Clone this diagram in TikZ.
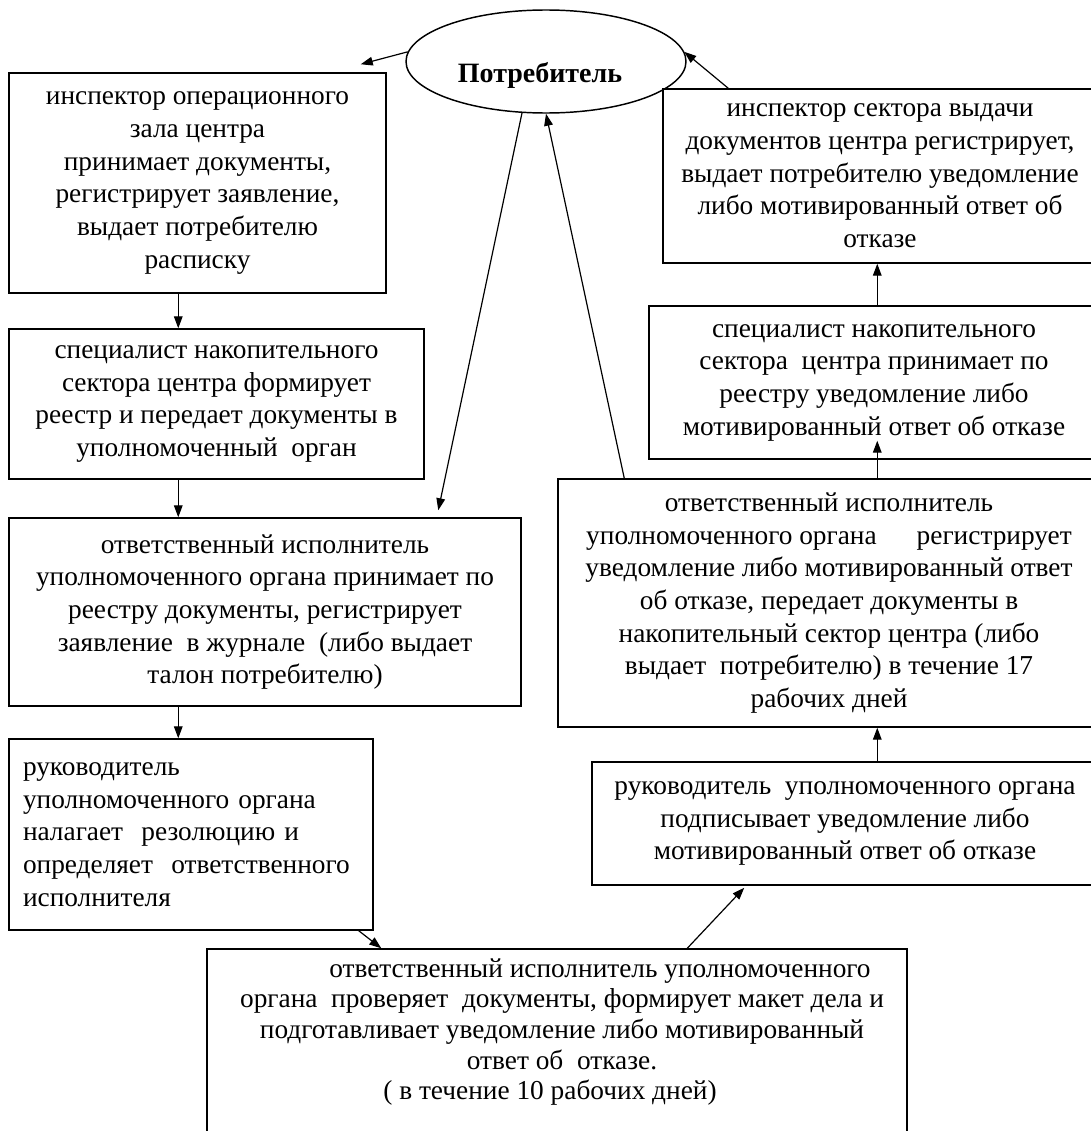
\documentclass[tikz,border=0pt]{standalone}
\usepackage{fontspec}
\setmainfont{Liberation Serif}
\usetikzlibrary{arrows.meta,calc,shapes.geometric}
\begin{document}
\begin{tikzpicture}[x=0.75pt,y=-0.75pt,
  box/.style={draw, line width=1.1pt, rectangle, inner sep=0pt, align=center,
    font=\fontsize{20.5pt}{24.5pt}\selectfont},
  lbl/.style={inner sep=0pt, align=center, font=\fontsize{20.5pt}{23pt}\selectfont},
  arr/.style={draw, line width=0.9pt, -{Triangle[length=9pt,width=6.5pt]}}]
\useasboundingbox (0,0) rectangle (1091,1131);
\clip (0,0) rectangle (1091,1131);
\fill[white] (0,0) rectangle (1091,1131);

\node[draw, ellipse, line width=1.1pt, minimum width=210pt, minimum height=77.25pt, inner sep=0pt] (cons) at (546,61.5) {};
\node[font=\bfseries\fontsize{21pt}{24pt}\selectfont, anchor=base, inner sep=0pt] (consl) at (540,83) {Потребитель};

\node[box, minimum width=282.75pt, minimum height=165pt] (b1) at (197.5,183)
  {инспектор операционного\\ зала центра\\ принимает документы,\\ регистрирует заявление,\\ выдает потребителю\\ расписку};
\node[box, minimum width=311.25pt, minimum height=112.5pt] (b2) at (216.5,404)
  {специалист накопительного\\ сектора центра формирует\\ реестр и передает документы в\\ уполномоченный\ \ орган};
\node[box, minimum width=384pt, minimum height=141pt] (b3) at (265,612)
  {ответственный исполнитель\\ уполномоченного органа принимает по\\ реестру документы, регистрирует\\ заявление\ \ в журнале\ \ (либо выдает\\ талон потребителю)};
\node[box, align=left, text width=252pt, minimum width=273pt, minimum height=143.25pt] (b4) at (191,834.5)
  {руководитель\\ уполномоченного органа\\ налагает\ \ резолюцию и\\ определяет\ \ ответственного\\ исполнителя};
\node[box, minimum width=525pt, minimum height=188.25pt] (b5) at (557,1074.5) {};
\node[lbl] (b5t) at (562,1032)
  {\hspace*{57pt}ответственный исполнитель уполномоченного\\ органа\ \ проверяет\ \ документы, формирует макет дела и\\ подготавливает уведомление либо мотивированный\\ ответ об\ \ отказе.\hspace*{22pt}\\ ( в течение 10 рабочих дней)\hspace*{18pt}};
\node[box, minimum width=379.5pt, minimum height=92.25pt] (b6) at (845,823.5)
  {руководитель\ \ уполномоченного органа\\ подписывает уведомление либо\\ мотивированный ответ об отказе};
\node[box, minimum width=406.5pt, minimum height=186pt] (b7) at (829,603)
  {ответственный исполнитель\\ уполномоченного органа\hspace{30pt}регистрирует\\ уведомление либо мотивированный ответ\\ об отказе, передает документы в\\ накопительный сектор центра (либо\\ выдает\ \ потребителю) в течение 17\\ рабочих дней};
\node[box, minimum width=337.5pt, minimum height=114.75pt] (b8) at (874,382.5)
  {специалист накопительного\\ сектора\ \ центра принимает по\\ реестру уведомление либо\\ мотивированный ответ об отказе};
\node[box, minimum width=325.5pt, minimum height=130.5pt] (b9) at (880,176)
  {инспектор сектора выдачи\\ документов центра регистрирует,\\ выдает потребителю уведомление\\ либо мотивированный ответ об\\ отказе};

% connectors
\draw[arr] (cons.176) -- ($(b1.north east)+(-26,-8)$);
\draw[arr] ($(b1.south west)+(170,0)$) -- ($(b2.north west)+(170,0)$);
\draw[arr] ($(b2.south west)+(170,0)$) -- ($(b3.north west)+(170,0)$);
\draw[arr] ($(b3.south west)+(170,0)$) -- ($(b4.north west)+(170,0)$);
\draw[arr] (cons.245) -- ($(b3.north west)+(430,-7)$);
\draw[arr] ($(b4.south east)+(-15,0)$) -- ($(b5.north west)+(175,0)$);
\draw[arr] ($(b5.north west)+(481,0)$) -- ($(b6.south west)+(153,2)$);
\draw[arr] ($(b6.north west)+(286,0)$) -- ($(b7.south west)+(320,0)$);
\draw[arr] ($(b7.north west)+(320,0)$) -- ($(b8.south west)+(229,-19)$);
\draw[arr] ($(b8.north west)+(229,0)$) -- ($(b9.south west)+(215,0)$);
\draw[arr] ($(b9.north west)+(66,0)$) -- (cons.4);
\draw[arr] ($(b7.north west)+(67,0)$) -- (cons.south);
\end{tikzpicture}
\end{document}
